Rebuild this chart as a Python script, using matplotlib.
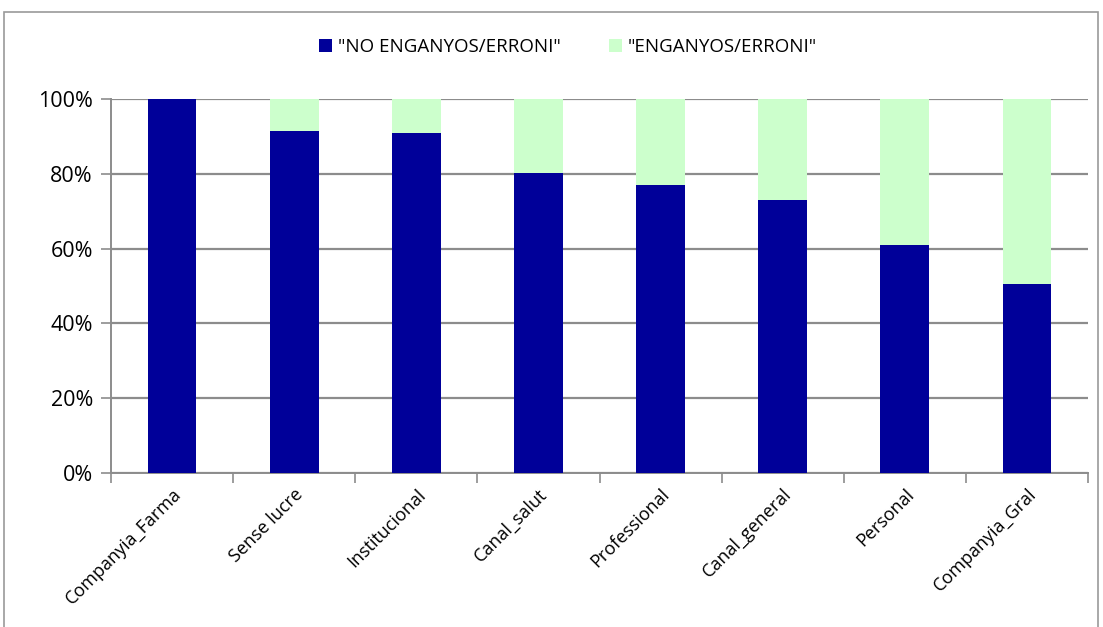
import matplotlib.pyplot as plt
import numpy as np
from matplotlib.patches import Rectangle

categories = ["Companyia_Farma", "Sense lucre", "Institucional", "Canal_salut",
              "Professional", "Canal_general", "Personal", "Companyia_Gral"]
no_enganyos = [100.0, 91.6, 91.1, 80.2, 77.1, 73.0, 61.0, 50.5]
enganyos = [100 - v for v in no_enganyos]
series_names = ['"NO ENGANYOS/ERRONI"', '"ENGANYOS/ERRONI"']
yticks = [0, 20, 40, 60, 80, 100]

plt.rcParams['font.family'] = ['Open Sans', 'DejaVu Sans']

fig = plt.figure(figsize=(11.03, 6.27), dpi=100)
# chart area frame
fig.patches.append(Rectangle((4 / 1103, -0.05), 1094 / 1103, 1.05 - 12 / 627,
                             transform=fig.transFigure, fill=False,
                             edgecolor='#9a9a9a', linewidth=1.2))

ax = fig.add_axes([111 / 1103, (627 - 472.8) / 627, 977 / 1103, 373.5 / 627])
x = np.arange(len(categories))
ax.bar(x, no_enganyos, width=0.4, color='#000099', label=series_names[0], zorder=3)
ax.bar(x, enganyos, width=0.4, bottom=no_enganyos, color='#CCFFCC',
       label=series_names[1], zorder=3)

ax.set_xlim(-0.5, len(categories) - 0.5)
ax.set_ylim(0, 100)
ax.set_yticks(yticks)
ax.set_yticklabels([f"{v}%" for v in yticks], fontsize=15.5)
ax.yaxis.grid(True, color='#8c8c8c', linewidth=1.6, zorder=0)
ax.tick_params(axis='y', length=7, color='#8c8c8c', width=1.2, pad=6)

ax.set_xticks(x)
ax.set_xticklabels(categories, rotation=45, ha='right', rotation_mode='anchor',
                   fontsize=13)
ax.tick_params(axis='x', which='major', length=0, pad=9)
ax.set_xticks(np.arange(len(categories) + 1) - 0.5, minor=True)
ax.tick_params(axis='x', which='minor', length=7, color='#8c8c8c', width=1.2)

for side in ('top', 'right'):
    ax.spines[side].set_visible(False)
for side in ('left', 'bottom'):
    ax.spines[side].set_color('#8c8c8c')
    ax.spines[side].set_linewidth(1.4)

fig.legend(loc='center', bbox_to_anchor=(0.515, 1 - 47 / 627), ncol=2,
           frameon=False, fontsize=13.5, handlelength=0.7, handleheight=0.7,
           columnspacing=2.6, handletextpad=0.3)

fig.savefig('out.png', dpi=100)
